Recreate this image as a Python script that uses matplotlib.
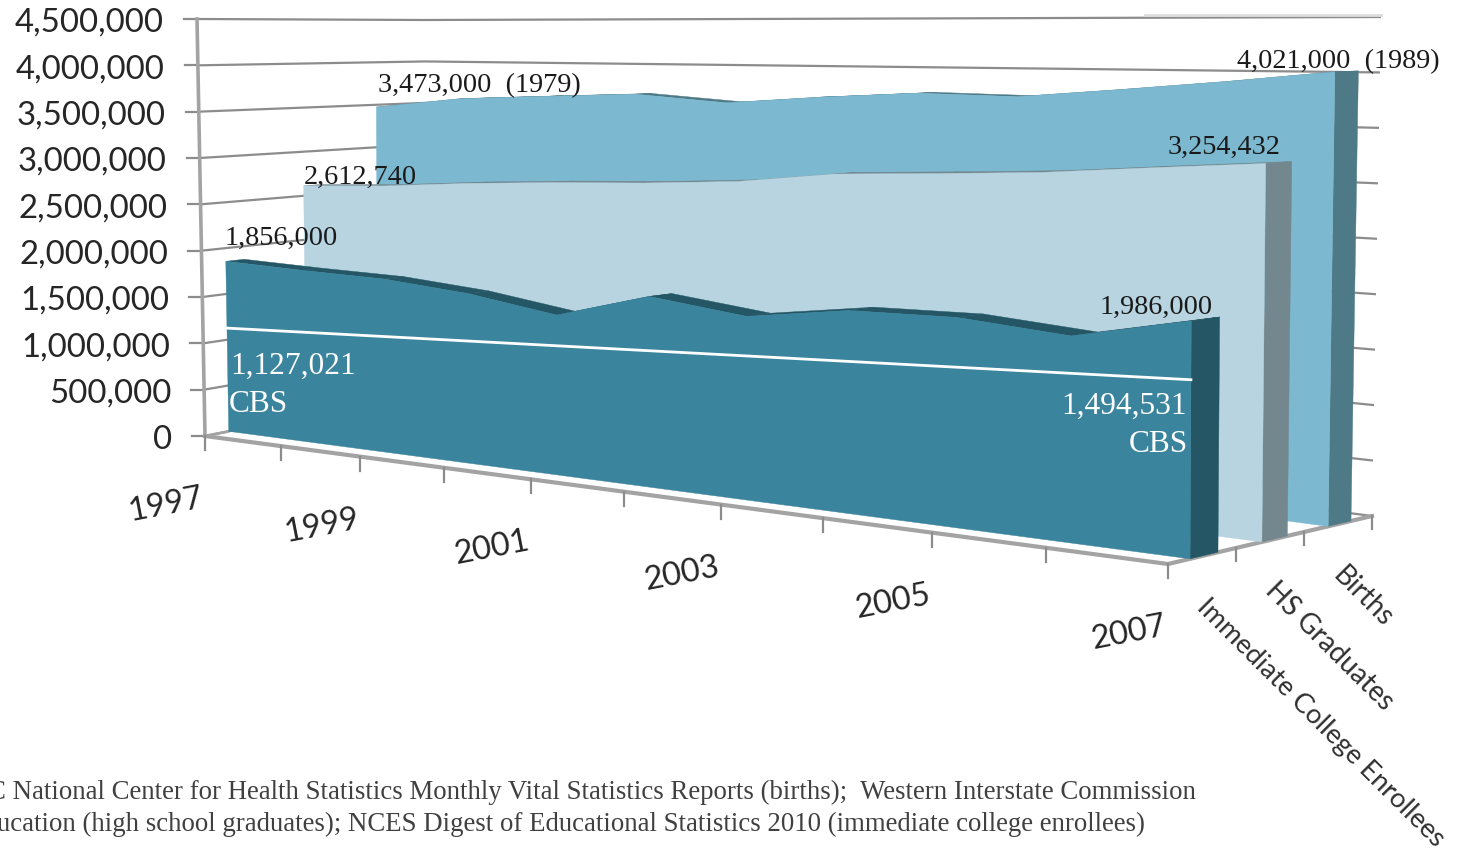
import matplotlib
matplotlib.use("Agg")
import matplotlib.pyplot as plt
import numpy as np
from matplotlib.patches import Polygon

# Annual values for each cohort, 1997-2007 positions on the shared axis
years = [1997, 1998, 1999, 2000, 2001, 2002, 2003, 2004, 2005, 2006, 2007]
enrollees = [1856000, 1823000, 1800000, 1720000, 1580000, 1835000, 1720000, 1850000, 1863000, 1780000, 1986000]
graduates = [2612740, 2660000, 2735000, 2790000, 2830000, 2890000, 3005000, 3050000, 3100000, 3180000, 3254432]
births = [3473000, 3595000, 3645000, 3690000, 3620000, 3700000, 3760000, 3745000, 3830000, 3920000, 4021000]
cbs_years = [1997, 2007]
cbs_values = [1127021, 1494531]
value_ticks = [0, 500000, 1000000, 1500000, 2000000, 2500000, 3000000, 3500000, 4000000, 4500000]
year_labels = [1997, 1999, 2001, 2003, 2005, 2007]
series_labels = ["Immediate College Enrollees", "HS Graduates", "Births"]

GRID = "#8c8c8c"
AXIS = "#a3a3a3"
TICK_TEXT = "#262626"
SERIF = "Liberation Serif"
SANS = "Lato"

# Corners of the 3D plot box on the canvas: zero plane and top plane
FLOOR = {"fl": (205, 437), "fr": (1168, 565), "bl": (425, 394), "br": (1372, 517)}
ROOF = {"fl": (197, 20), "fr": (1170, 21), "bl": (425, 21), "br": (1381, 18)}
VMAX = 4500000
YEAR0, YEAR1 = years[0], years[-1]


def warp(t, d):
    r = 1.3 - 0.18 * d
    return t / (t + (1 - t) * r)


def corner_mix(c, s, d):
    fx = (1 - s) * c["fl"][0] + s * c["fr"][0]
    fy = (1 - s) * c["fl"][1] + s * c["fr"][1]
    bx = (1 - s) * c["bl"][0] + s * c["br"][0]
    by = (1 - s) * c["bl"][1] + s * c["br"][1]
    return (1 - d) * fx + d * bx, (1 - d) * fy + d * by


def project(year, value, depth, thick=0.0):
    """Map (year, value, depth) onto the canvas through the box perspective."""
    t = (year - YEAR0) / (YEAR1 - YEAR0)
    s = warp(t, depth)
    d = depth + thick * (0.6 + 0.4 * s)
    x0, y0 = corner_mix(FLOOR, s, d)
    x1, y1 = corner_mix(ROOF, s, d)
    k = value / VMAX
    return x0 + (x1 - x0) * k, y0 + (y1 - y0) * k


fig = plt.figure(figsize=(14.58, 8.53), dpi=100)
ax = fig.add_axes([0, 0, 1, 1])
ax.set_xlim(0, 1458)
ax.set_ylim(853, 0)
ax.axis("off")

# Gridlines on the side wall and back wall
for v in value_ticks:
    pts = [project(YEAR0, v, 0), project(YEAR0, v, 1), project(YEAR1, v, 1)]
    ax.plot(*zip(*pts), color=GRID, lw=1.6, solid_capstyle="butt", zorder=1)
    x, y = pts[0]
    ax.plot([x - 13, x], [y, y], color=GRID, lw=1.6, zorder=1)
    ax.text(x - 33, y + 3, f"{v:,}", ha="right", va="center", family=SANS,
            fontsize=23.8, color=TICK_TEXT, zorder=6)
ax.plot([1145, 1381], [16, 16], color="#dddddd", lw=2, zorder=1)

# Vertical axis
ax.plot(*zip(project(YEAR0, 0, 0), project(YEAR0, VMAX, 0)), color=AXIS, lw=2.6, zorder=2)

# Floor edges, their tick marks and the rotated category labels
ax.plot(*zip(project(YEAR0, 0, 0), project(YEAR1, 0, 0), project(YEAR1, 0, 1)),
        color=AXIS, lw=3, zorder=2, solid_joinstyle="miter")
ax.plot(*zip(project(YEAR0, 0, 0), project(YEAR0, 0, 0.1)), color=AXIS, lw=2, zorder=2)
for yr in years:
    x, y = project(yr, 0, 0)
    ax.plot([x, x], [y, y + 14], color=GRID, lw=1.6, zorder=2)
for d in (1 / 3, 2 / 3, 1):
    x, y = project(YEAR1, 0, d)
    ax.plot([x, x], [y, y + 13], color=GRID, lw=1.6, zorder=2)
for yr in year_labels:
    x, y = project(yr, 0, 0)
    ax.text(x - 39, y + 68, str(yr), ha="center", va="center", rotation=11,
            family=SANS, fontsize=23.5, color=TICK_TEXT, zorder=6)
for name, pos, size in zip(series_labels, [(1201, 603), (1270, 586), (1337, 571)], [19.6, 20, 20]):
    ax.text(pos[0], pos[1], name, rotation=-45, rotation_mode="anchor", ha="left",
            va="center", family=SANS, fontsize=size, color="#303030", zorder=6)

# Ribbons from back to front: ridge, end cap, then the front face
ribbons = [
    (births, 0.785, 0.112, "#7cb9d0", "#4e7987"),
    (graduates, 0.46, 0.125, "#b7d4e0", "#73878e"),
    (enrollees, 0.108, 0.137, "#3a849d", "#245665"),
]
for z, (vals, depth, thick, face, side) in enumerate(ribbons):
    base = 3 + z * 0.1
    for i in range(len(years) - 1):
        quad = [project(years[i], vals[i], depth), project(years[i + 1], vals[i + 1], depth),
                project(years[i + 1], vals[i + 1], depth, thick), project(years[i], vals[i], depth, thick)]
        ax.add_patch(Polygon(quad, closed=True, fc=side, ec=side, lw=0.3, zorder=base))
    cap = [project(YEAR1, 0, depth), project(YEAR1, vals[-1], depth),
           project(YEAR1, vals[-1], depth, thick), project(YEAR1, 0, depth, thick)]
    ax.add_patch(Polygon(cap, closed=True, fc=side, ec=side, lw=0.3, zorder=base))
    outline = [project(y, v, depth) for y, v in zip(years, vals)]
    outline += [project(y, 0, depth) for y in years[::-1]]
    ax.add_patch(Polygon(outline, closed=True, fc=face, ec=face, lw=0.3, zorder=base + 0.05))

# CBS trend across the enrollee ribbon
ax.plot(*zip(*[project(y, v, 0.108) for y, v in zip(cbs_years, cbs_values)]),
        color="white", lw=2, zorder=5)

# Value annotations
black = dict(family=SERIF, fontsize=20.3, color="#1a1a1a", zorder=7, va="center")
ax.text(225, 238, f"{enrollees[0]:,}", ha="left", **black)
ax.text(304, 177, f"{graduates[0]:,}", ha="left", **black)
ax.text(378, 86, f"{births[0]:,}  (1979)", ha="left", **black)
ax.text(1237, 62, f"{births[-1]:,}  (1989)", ha="left", **black)
ax.text(1168, 147, f"{graduates[-1]:,}", ha="left", **black)
ax.text(1100, 307, f"{enrollees[-1]:,}", ha="left", **black)
white = dict(family=SERIF, fontsize=22.6, color="white", zorder=7, va="center")
ax.text(230, 366, f"{cbs_values[0]:,}", ha="left", **white)
ax.text(229, 405, "CBS", ha="left", **white)
ax.text(1187, 406, f"{cbs_values[1]:,}", ha="right", **white)
ax.text(1188, 445, "CBS", ha="right", **white)

# Source note running off the left edge
note = dict(family=SERIF, fontsize=19.3, color="#404040", zorder=7, va="center", ha="left")
ax.text(-12, 792, "C National Center for Health Statistics Monthly Vital Statistics Reports (births);  "
        "Western Interstate Commission", **note)
ax.text(-3, 824, "ucation (high school graduates); NCES Digest of Educational Statistics 2010 "
        "(immediate college enrollees)", **note)

fig.savefig("out.png", dpi=100)
